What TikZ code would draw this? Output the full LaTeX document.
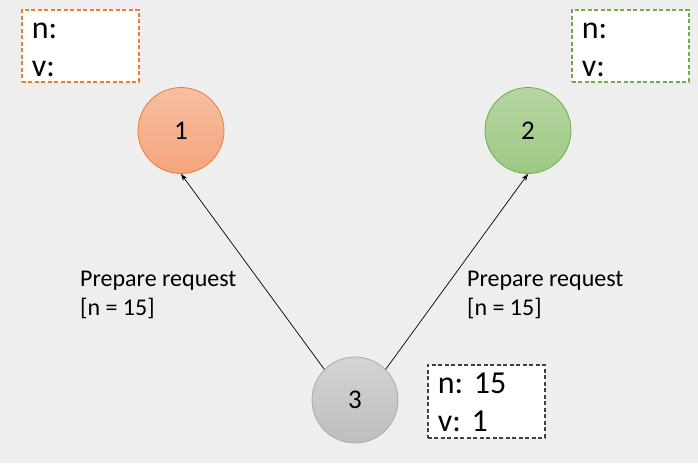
\documentclass[tikz,border=0pt]{standalone}
\usepackage{fontspec}
\setmainfont{Carlito}
\usetikzlibrary{arrows.meta}
\definecolor{bgray}{HTML}{EEEEEE}
\definecolor{orangeline}{HTML}{ED7D31}
\definecolor{orangetop}{HTML}{F7BFA1}
\definecolor{orangebot}{HTML}{F4A47C}
\definecolor{greenline}{HTML}{70AD47}
\definecolor{greentop}{HTML}{B6D6A4}
\definecolor{greenbot}{HTML}{9DC983}
\definecolor{grayline}{HTML}{ABABAB}
\definecolor{graytop}{HTML}{D3D3D3}
\definecolor{graybot}{HTML}{BEBEBE}
\definecolor{darkline}{HTML}{404040}

\tikzset{
  server/.style={circle, draw, line width=0.8pt, minimum size=86pt, inner sep=0pt,
    font=\fontsize{27}{32}\selectfont},
  statebox/.style={draw, dash pattern=on 4pt off 2.5pt, line width=1.6pt, fill=white,
    anchor=north west, inner xsep=10pt, inner ysep=0pt, text width=97pt, align=left,
    text height=29pt, text depth=43pt, font=\fontsize{32}{38}\selectfont\frenchspacing},
  msg/.style={anchor=base west, align=left, inner sep=0pt, font=\fontsize{24}{29}\selectfont},
  req/.style={-{Stealth[length=7pt,width=5pt]}, line width=0.7pt}
}

\begin{document}
\begin{tikzpicture}[x=1pt, y=-1pt]
        % Hintergrund
        \fill[bgray] (0,0) rectangle (698,463);
        \useasboundingbox (0,0) rectangle (698,463);

        % Server
        \node[server, draw=orangeline, top color=orangetop, bottom color=orangebot] (n1) at (181,130.5) {1};
        \node[server, draw=greenline, top color=greentop, bottom color=greenbot] (n2) at (528,130.5) {2};
        \node[server, draw=grayline, top color=graytop, bottom color=graybot] (n3) at (355,400) {3};

        % Zustand
        \node[statebox, draw=orangeline] (box1) at (21,9) {n:\\v:};
        \node[statebox, draw=greenline] (box2) at (571,9) {n:\\v:};
        \node[statebox, draw=darkline, text depth=44pt] (box3) at (427,364) {n: 15\\v: 1};

        % Nachrichten
        \draw[req] (n3.135) -- (n1.south);
        \draw[req] (n3.45) -- (n2.south);
        \node[msg] (lbl1) at (80,315) {Prepare request\\{[n = 15]}};
        \node[msg] (lbl2) at (467,315) {Prepare request\\{[n = 15]}};
    \end{tikzpicture}
\end{document}
